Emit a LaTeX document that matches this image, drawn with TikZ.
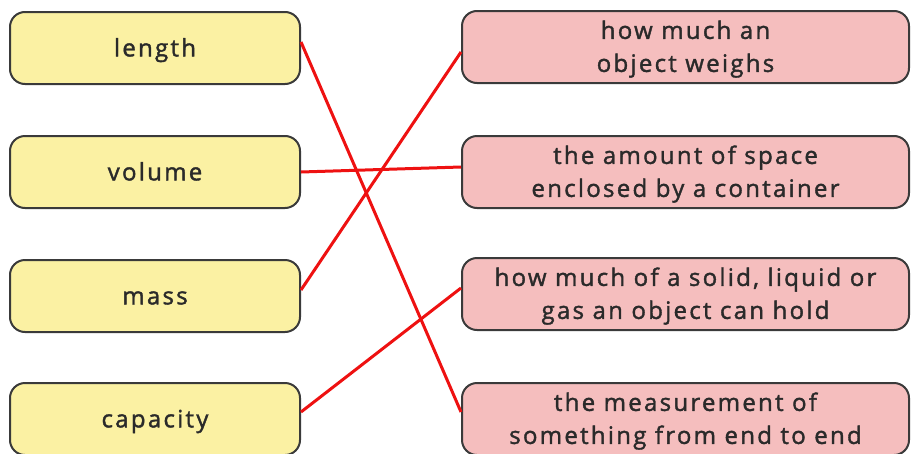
\documentclass[tikz,border=0pt]{standalone}
\usepackage{fontspec}
\setmainfont[LetterSpace=9.5,FakeBold=1.6]{Open Sans}
\definecolor{yel}{HTML}{FBF1A3}
\definecolor{pnk}{HTML}{F5BEBE}
\definecolor{txt}{HTML}{2A2A2A}
\definecolor{brd}{HTML}{3A3A3A}
\definecolor{lnk}{HTML}{EE1111}
\newcommand\boxtext[1]{\raisebox{-8pt}[0pt][0pt]{\begin{tabular}{@{}c@{}}#1\end{tabular}}}
\begin{document}
\begin{tikzpicture}[x=1pt,y=-1pt,
  box/.style={draw=brd,line width=2pt,rounded corners=15pt,align=center,
    text=txt,font=\fontsize{24}{33}\selectfont,inner sep=0pt},
  lbox/.style={box,fill=yel,minimum width=290pt,minimum height=72pt},
  rbox/.style={box,fill=pnk,minimum width=447pt,minimum height=72pt},
  link/.style={draw=lnk,line width=3pt}]
\useasboundingbox (0,0) rectangle (911,453);
\begin{scope}
\clip (0,0) rectangle (911,453);
\node[lbox] (l1) at (155,48) {\boxtext{length}};
\node[lbox] (l2) at (155,172) {\boxtext{volume}};
\node[lbox] (l3) at (155,296) {\boxtext{mass}};
\node[lbox] (l4) at (155,419) {\boxtext{capacity}};
\node[rbox] (r1) at (685.5,47) {\boxtext{how much an\\object weighs}};
\node[rbox] (r2) at (685.5,172) {\boxtext{the amount of space\\enclosed by a container}};
\node[rbox] (r3) at (685.5,294) {\boxtext{how much of a solid, liquid or\\gas an object can hold}};
\node[rbox] (r4) at (685.5,419) {\boxtext{the measurement of\\something from end to end}};
\end{scope}
\draw[link] ([yshift=6pt]l1.east) -- ([yshift=7pt]r4.west);
\draw[link] (l2.east) -- ([yshift=5pt]r2.west);
\draw[link] ([yshift=6pt]l3.east) -- ([yshift=-5pt]r1.west);
\draw[link] ([yshift=7pt]l4.east) -- ([yshift=6pt]r3.west);
\end{tikzpicture}
\end{document}
